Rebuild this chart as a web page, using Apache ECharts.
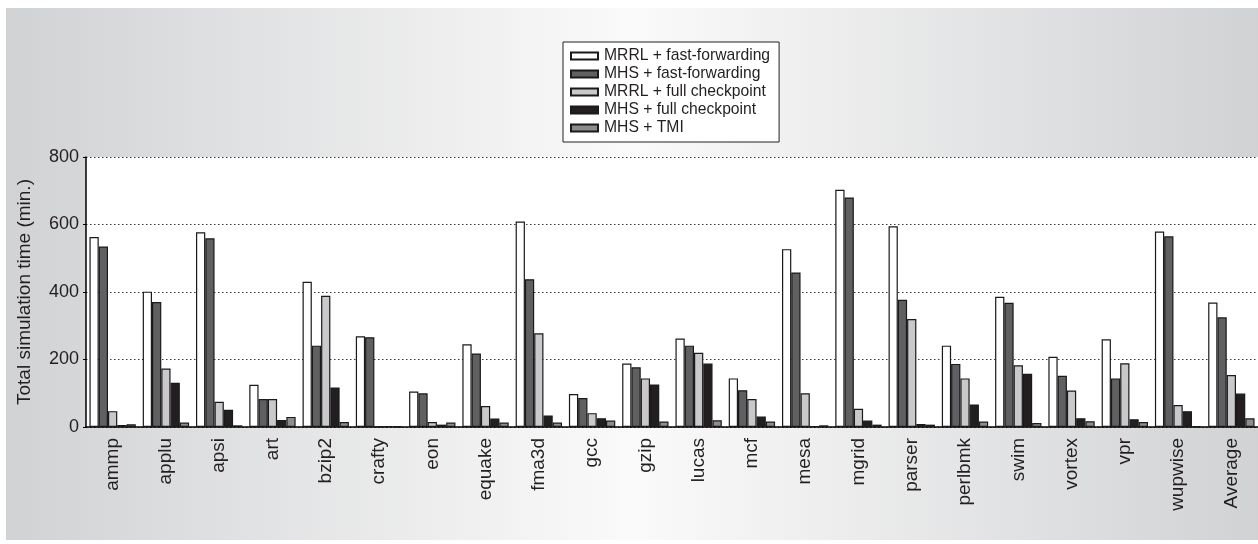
<!DOCTYPE html>
<html>
<head>
<meta charset="utf-8">
<script src="https://cdn.jsdelivr.net/npm/echarts@6/dist/echarts.min.js"></script>
<style>
  html, body { margin: 0; padding: 0; background: #ffffff; }
  #chart { width: 1258px; height: 544px; }
</style>
</head>
<body>
<div id="chart"></div>
<script>
// Benchmarks (SPEC CPU2000) plus the average
const categories = ['ammp', 'applu', 'apsi', 'art', 'bzip2', 'crafty', 'eon', 'equake', 'fma3d', 'gcc', 'gzip',
  'lucas', 'mcf', 'mesa', 'mgrid', 'parser', 'perlbmk', 'swim', 'vortex', 'vpr', 'wupwise', 'Average'];

// Total simulation time in minutes
const mrrlFastForward = [563, 401, 577, 125, 430, 269, 105, 245, 609, 98, 188, 262, 144, 527, 703, 595, 241, 386, 208, 260, 579, 369];
const mhsFastForward  = [535, 370, 559, 83, 241, 266, 100, 218, 438, 86, 177, 241, 109, 458, 680, 377, 187, 368, 152, 144, 565, 325];
const mrrlCheckpoint  = [47, 173, 75, 83, 389, 2, 15, 62, 278, 41, 144, 220, 83, 100, 54, 320, 144, 183, 108, 189, 65, 154];
const mhsCheckpoint   = [6, 131, 51, 21, 117, 3, 7, 25, 34, 26, 126, 188, 31, 3, 19, 9, 67, 158, 26, 23, 47, 99];
const mhsTmi          = [8, 13, 5, 30, 15, 2, 13, 13, 13, 19, 16, 20, 16, 5, 7, 7, 16, 12, 17, 15, 3, 26];

const yTicks = [0, 200, 400, 600, 800];

const seriesDefs = [
  { name: 'MRRL + fast-forwarding', data: mrrlFastForward, color: '#ffffff' },
  { name: 'MHS + fast-forwarding',  data: mhsFastForward,  color: '#606062' },
  { name: 'MRRL + full checkpoint', data: mrrlCheckpoint,  color: '#c9c9cb' },
  { name: 'MHS + full checkpoint',  data: mhsCheckpoint,   color: '#231f20' },
  { name: 'MHS + TMI',              data: mhsTmi,          color: '#8d8d8f' }
];

const textColor = '#231f20';
const fontFamily = '"Liberation Sans", Arial, Helvetica, sans-serif';

const chart = echarts.init(document.getElementById('chart'), null, { renderer: 'canvas' });

chart.setOption({
  animation: false,
  backgroundColor: 'transparent',
  textStyle: { fontFamily: fontFamily, color: textColor },
  graphic: [{
    type: 'rect',
    z: -100,
    silent: true,
    shape: { x: 6, y: 8, width: 1252, height: 532 },
    style: {
      fill: new echarts.graphic.LinearGradient(0, 0, 1, 0, [
        { offset: 0, color: '#d1d2d4' },
        { offset: 0.5, color: '#fafafa' },
        { offset: 1, color: '#d1d2d4' }
      ])
    }
  }],
  legend: {
    orient: 'vertical',
    left: 563,
    top: 42,
    padding: [6, 9, 6, 7],
    itemGap: 2,
    itemWidth: 27,
    itemHeight: 7,
    backgroundColor: '#ffffff',
    borderColor: '#231f20',
    borderWidth: 1,
    borderRadius: 0,
    textStyle: { fontSize: 15.7, color: textColor, fontFamily: fontFamily, padding: [0, 0, 0, 1] },
    data: seriesDefs.map(s => ({ name: s.name, icon: 'rect' }))
  },
  grid: {
    left: 86,
    right: 0,
    top: 157,
    bottom: 117,
    show: true,
    backgroundColor: '#ffffff',
    borderWidth: 0
  },
  xAxis: {
    type: 'category',
    data: categories,
    axisLine: { show: true, lineStyle: { color: '#000000', width: 1.5 } },
    axisTick: { show: false },
    axisLabel: {
      rotate: 90,
      margin: 11,
      fontSize: 19,
      color: textColor,
      fontFamily: fontFamily,
      interval: 0
    },
    splitLine: { show: false }
  },
  yAxis: {
    type: 'value',
    min: yTicks[0],
    max: yTicks[yTicks.length - 1],
    interval: yTicks[1] - yTicks[0],
    name: 'Total simulation time (min.)',
    nameLocation: 'middle',
    nameGap: 52,
    nameTextStyle: { fontSize: 19, color: textColor, fontFamily: fontFamily },
    axisLine: { show: true, lineStyle: { color: '#000000', width: 1.5 } },
    axisTick: { show: true, length: 3, lineStyle: { color: '#000000' } },
    axisLabel: { fontSize: 18, color: textColor, margin: 7, fontFamily: fontFamily },
    splitLine: { show: true, lineStyle: { color: '#3a3a3a', width: 1, type: [1.5, 2.5] } }
  },
  series: seriesDefs.map(s => ({
    name: s.name,
    type: 'bar',
    data: s.data,
    barGap: '0%',
    barCategoryGap: '13%',
    itemStyle: { color: s.color, borderColor: '#1a1a1a', borderWidth: 1.2 },
    emphasis: { disabled: true }
  }))
});
</script>
</body>
</html>
